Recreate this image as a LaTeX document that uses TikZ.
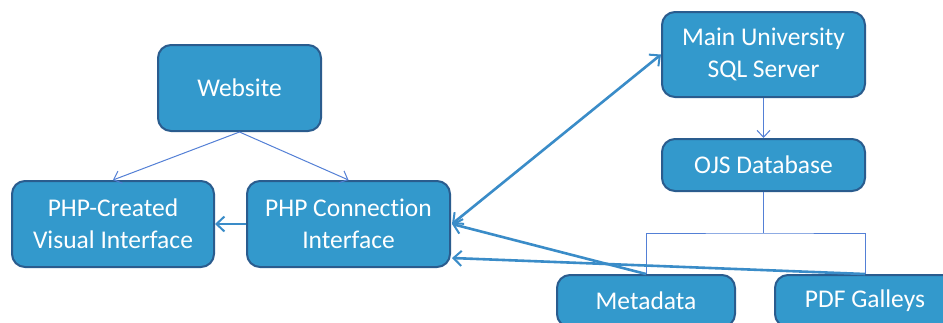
\documentclass[tikz,border=0pt]{standalone}
\usepackage{fontspec}
\setmainfont[Ligatures=NoCommon]{Carlito}
\usetikzlibrary{arrows.meta,calc}
\definecolor{boxfill}{RGB}{51,153,204}
\definecolor{boxedge}{RGB}{42,92,142}
\definecolor{thinline}{RGB}{84,128,214}
\definecolor{thickline}{RGB}{58,140,200}
\tikzset{
  box/.style={draw=boxedge, line width=2pt, fill=boxfill, rounded corners=13pt,
    text=white, align=center, inner sep=0pt,
    font=\fontsize{25.5}{32}\selectfont},
  thin/.style={draw=thinline, line width=1pt},
  thinarrow/.style={thin, -{Straight Barb[length=7pt,width=13pt,line width=1pt]}},
  thick/.style={draw=thickline, line width=2.6pt},
  thickarrow/.style={thick, -{Straight Barb[length=8pt,width=15pt,line width=2pt]}},
  thickboth/.style={thick, {Straight Barb[length=8pt,width=15pt,line width=2pt]}-{Straight Barb[length=8pt,width=15pt,line width=2pt]}}
}
\begin{document}
\begin{tikzpicture}[x=1pt,y=-1pt]
\useasboundingbox (0,0) rectangle (943,322);
\clip (0,0) rectangle (943,322);
\fill[white] (0,0) rectangle (943,322);

% boxes
\node[box, minimum width=163pt, minimum height=86pt] (web) at (239.5,88) {Website};
\node[box, minimum width=202pt, minimum height=86pt] (vis) at (113,224) {PHP-Created\\Visual Interface};
\node[box, minimum width=203pt, minimum height=86pt] (phpc) at (348.5,224) {PHP Connection\\Interface};
\node[box, minimum width=203pt, minimum height=85pt] (main) at (763.5,54.5) {Main University\\SQL Server};
\node[box, minimum width=203pt, minimum height=52pt] (ojs) at (763.5,165) {OJS Database};
\node[box, minimum width=178pt, minimum height=52pt] (meta) at (646,301) {Metadata};
\node[box, minimum width=180pt, minimum height=52pt] (pdf) at (865,301) {PDF Galleys};

% thin connectors
\draw[thinarrow] (web.south) -- (vis.north);
\draw[thinarrow] (web.south) -- (phpc.north);
\draw[thinarrow] (main.south) -- (ojs.north);
\coordinate (fork) at (763.5,233);
\draw[thin] (ojs.south) -- (fork);
\draw[thin] (meta.north) |- (fork) -| (pdf.north);

% thick connectors
\coordinate (phplow) at ($(phpc.east)+(1,34)$);
\draw[thickarrow] (phpc.west) -- (vis.east);
\draw[thickboth] ($(phpc.east)+(1,0)$) -- (main.west);
\draw[thickarrow] (meta.north) -- ($(phpc.east)+(1,0)$);
\draw[thickarrow] (pdf.north) -- (phplow);
\end{tikzpicture}
\end{document}
